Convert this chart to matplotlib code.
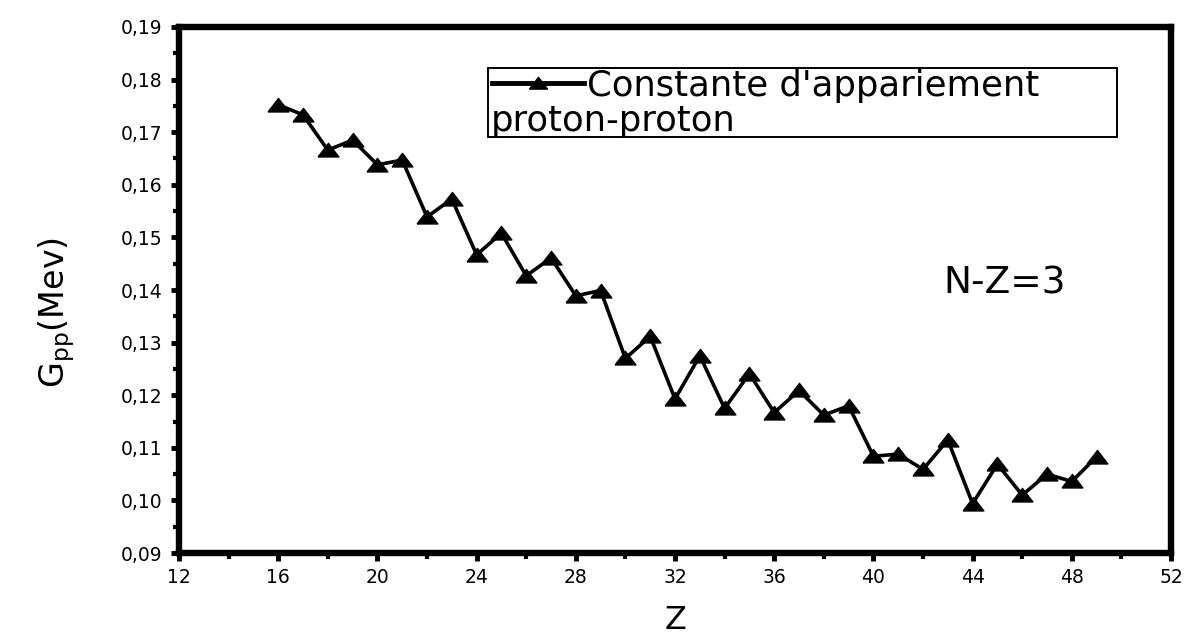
import matplotlib
matplotlib.use("Agg")
import matplotlib.pyplot as plt
from matplotlib.ticker import MultipleLocator, FuncFormatter
from matplotlib.patches import Rectangle

plt.rcParams['font.family'] = ['DejaVu Sans']

# Z values and pairing constant G_pp (MeV), N-Z=3
Z = [16, 17, 18, 19, 20, 21, 22, 23, 24, 25, 26, 27, 28, 29, 30, 31, 32,
     33, 34, 35, 36, 37, 38, 39, 40, 41, 42, 43, 44, 45, 46, 47, 48, 49]
Gpp = [0.1752, 0.1733, 0.1666, 0.1685, 0.1638, 0.1647, 0.1539, 0.1573,
       0.1467, 0.1508, 0.1427, 0.1461, 0.1389, 0.1399, 0.1270, 0.1312,
       0.1193, 0.1275, 0.1175, 0.1241, 0.1167, 0.1209, 0.1162, 0.1180,
       0.1084, 0.1088, 0.1059, 0.1115, 0.0994, 0.1069, 0.1010, 0.1050,
       0.1036, 0.1083]

legend_line1 = "Constante d'appariement"
legend_line2 = "proton-proton"

# wide, flat triangle like the original marker
tri = [(-1.0, -0.62), (1.0, -0.62), (0.0, 0.68), (-1.0, -0.62)]

fig = plt.figure(figsize=(11.88, 6.38), dpi=100)
ax = fig.add_axes([0.1507, 0.1332, 0.835, 0.8245])

ax.plot(Z, Gpp, color="black", lw=2.6, marker=tri, ms=15)

ax.set_xlim(12, 52)
ax.set_ylim(0.09, 0.19)
ax.xaxis.set_major_locator(MultipleLocator(4))
ax.xaxis.set_minor_locator(MultipleLocator(2))
ax.yaxis.set_major_locator(MultipleLocator(0.01))
ax.yaxis.set_minor_locator(MultipleLocator(0.005))
ax.yaxis.set_major_formatter(FuncFormatter(lambda v, p: ("%.2f" % v).replace(".", ",")))

for s in ax.spines.values():
    s.set_linewidth(4.6)
ax.tick_params(which="major", direction="out", length=6, width=3.5, labelsize=13.5)
ax.tick_params(axis="x", which="major", pad=5)
ax.tick_params(axis="y", which="major", pad=6)
ax.tick_params(which="minor", direction="out", length=4, width=3)

ax.set_xlabel("Z", fontsize=23)
ax.xaxis.set_label_coords(0.501, -0.098)
ax.set_ylabel(r"G$_{\mathregular{pp}}$(Mev)", fontsize=24)
ax.yaxis.set_label_coords(-0.103, 0.458)

ax.text(0.832, 0.513, "N-Z=3", transform=ax.transAxes, fontsize=27,
        ha="center", va="center")

# legend box drawn by hand to keep the two-line layout
ax.add_patch(Rectangle((0.3115, 0.791), 0.634, 0.131, transform=ax.transAxes,
                       fill=False, edgecolor="black", lw=1.4, zorder=5))
ax.plot([0.315, 0.408], [0.894, 0.894], transform=ax.transAxes, color="black",
        lw=3.5, zorder=6)
ax.plot([0.3615], [0.894], transform=ax.transAxes, color="black", marker=tri,
        ms=13, zorder=6)
ax.text(0.411, 0.869, legend_line1, transform=ax.transAxes, fontsize=25.5,
        ha="left", va="baseline", zorder=6)
ax.text(0.314, 0.802, legend_line2, transform=ax.transAxes, fontsize=25.5,
        ha="left", va="baseline", zorder=6)

fig.savefig("out.png", dpi=100)
